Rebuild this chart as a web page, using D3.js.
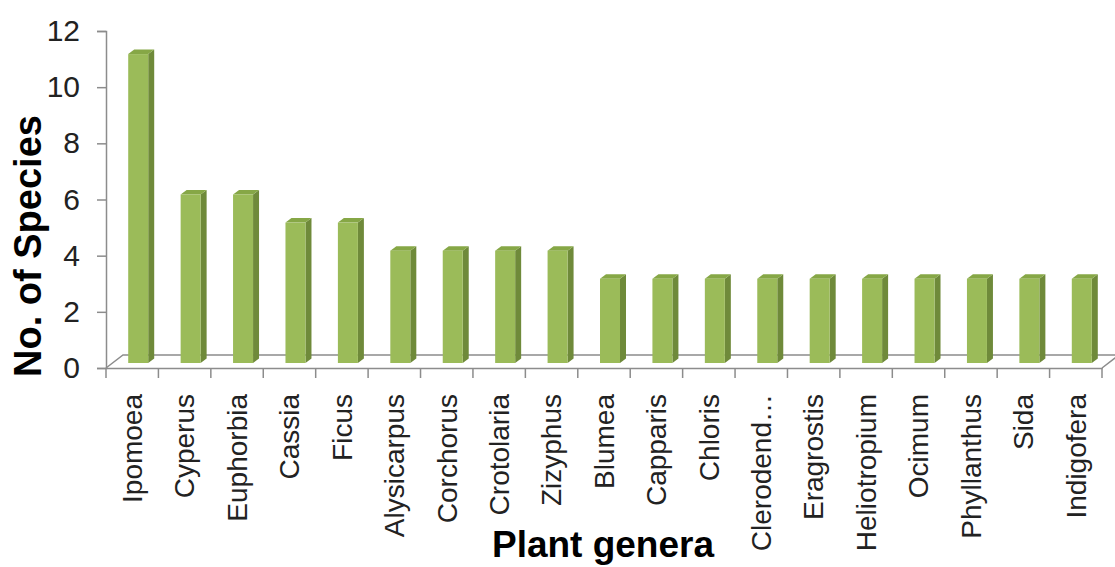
<!DOCTYPE html>
<html><head><meta charset="utf-8">
<script src="https://cdn.jsdelivr.net/npm/d3@7"></script>
<style>html,body{margin:0;padding:0;background:#fff;overflow:hidden}</style>
</head><body>
<svg id="c" width="1115" height="567"></svg>
<script>
const categories = ["Ipomoea","Cyperus","Euphorbia","Cassia","Ficus","Alysicarpus","Corchorus","Crotolaria","Zizyphus","Blumea","Capparis","Chloris","Clerodend…","Eragrostis","Heliotropium","Ocimum","Phyllanthus","Sida","Indigofera"];
const species = [11,6,6,5,5,4,4,4,4,3,3,3,3,3,3,3,3,3,3];
const yTicks = [0,2,4,6,8,10,12];

(function () {
const svg = d3.select("#c");
const left = 106, right = 1102, base = 368, topY = 31;
const floorDx = 17, floorDy = -13;      // depth of the floor
const barDx = 6, barDy = -5;           // bar offset into depth
const sideDx = 6, sideDy = -4.5;       // bar side thickness

const x = d3.scaleBand().domain(categories).range([left, right]).paddingInner(0).paddingOuter(0);
const y = d3.scaleLinear().domain([0, 12]).range([base, topY]);

const axisColor = "#8c8c8c";

// floor
const g = svg.append("g");
g.append("path")
  .attr("d", `M${left},${base} L${left+floorDx},${base+floorDy} L${right+floorDx},${base+floorDy} L${right},${base}`)
  .attr("fill", "none").attr("stroke", axisColor).attr("stroke-width", 1.5);

// bars
const bw = x.bandwidth();
const frontW = 20;
const bars = g.selectAll("g.bar").data(categories).enter().append("g").attr("class","bar");
bars.each(function(c, i) {
  const gg = d3.select(this);
  const x0 = x(c) + (bw - frontW) / 2 + barDx;
  const x1 = x0 + frontW;
  const yb = y(0) + barDy;
  const yt = y(species[i]) + barDy;
  gg.append("path")
    .attr("d", `M${x1},${yb} L${x1},${yt} L${x1+sideDx},${yt+sideDy} L${x1+sideDx},${yb+sideDy} Z`)
    .attr("fill", "#6f8a3a");
  gg.append("path")
    .attr("d", `M${x0},${yt} L${x1},${yt} L${x1+sideDx},${yt+sideDy} L${x0+sideDx},${yt+sideDy} Z`)
    .attr("fill", "#86a746");
  gg.append("rect").attr("x", x0).attr("y", yt).attr("width", frontW).attr("height", yb - yt)
    .attr("fill", "#9bbb59");
});

// y axis
const yAxis = d3.axisLeft(y).tickValues(yTicks).tickSize(9).tickPadding(17).tickFormat(d3.format("d"));
const ya = svg.append("g").attr("transform", `translate(${left},0)`).call(yAxis);
ya.select(".domain").attr("stroke", axisColor).attr("stroke-width", 1.5);
ya.selectAll(".tick line").attr("stroke", axisColor).attr("stroke-width", 1.5);
ya.selectAll(".tick text").attr("font-family", "Liberation Sans, Arial, sans-serif")
  .attr("font-size", 30).attr("fill", "#222");

// x axis
const xAxis = d3.axisBottom(x).tickSize(0).tickFormat("");
const xa = svg.append("g").attr("transform", `translate(0,${base})`).call(xAxis);
xa.select(".domain").attr("stroke", axisColor).attr("stroke-width", 1.5);
const bounds = categories.map(c => x(c)).concat([right]);
xa.selectAll("line.sep").data(bounds).enter().append("line").attr("class","sep")
  .attr("x1", d => d).attr("x2", d => d).attr("y1", 0).attr("y2", 10)
  .attr("stroke", axisColor).attr("stroke-width", 1.5);
xa.selectAll("text.lab").data(categories).enter().append("text").attr("class","lab")
  .attr("transform", d => `translate(${x(d) + bw/2},26) rotate(-90)`)
  .attr("text-anchor", "end").attr("dy", "0.35em")
  .attr("font-family", "Liberation Sans, Arial, sans-serif").attr("font-size", 28).attr("fill", "#222")
  .text(d => d);

// titles
svg.append("text").attr("transform", "translate(41,246) rotate(-90)")
  .attr("text-anchor", "middle")
  .attr("font-family", "Liberation Sans, Arial, sans-serif").attr("font-weight", "bold").attr("font-size", 38)
  .attr("fill", "#000").text("No. of Species");
svg.append("text").attr("x", 603).attr("y", 557)
  .attr("text-anchor", "middle")
  .attr("font-family", "Liberation Sans, Arial, sans-serif").attr("font-weight", "bold").attr("font-size", 37)
  .attr("fill", "#000").text("Plant genera");
})();
</script>
</body></html>
